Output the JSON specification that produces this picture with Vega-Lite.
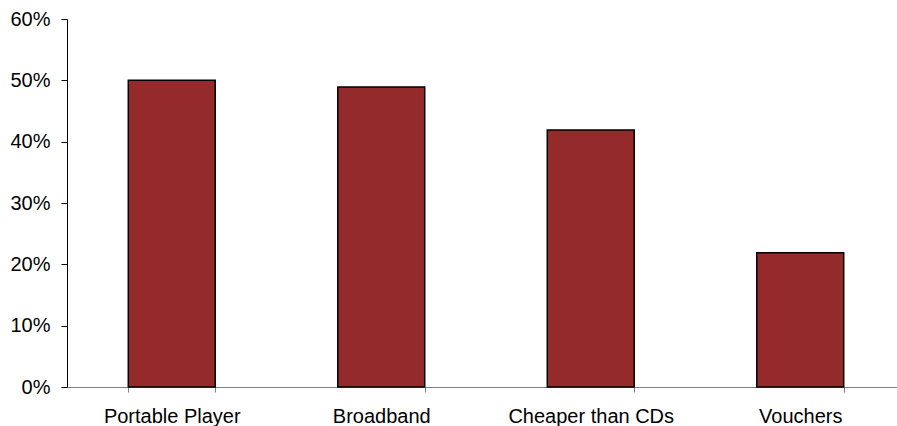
{
  "$schema": "https://vega.github.io/schema/vega-lite/v6.json",
  "width": 830,
  "height": 368,
  "autosize": "none",
  "padding": {"left": 67, "top": 19, "right": 0, "bottom": 39},
  "background": "white",
  "config": {"view": {"stroke": null}, "font": "Liberation Sans"},
  "data": {"values": [
    {"category": "Portable Player", "value": 0.50},
    {"category": "Broadband", "value": 0.489},
    {"category": "Cheaper than CDs", "value": 0.419},
    {"category": "Vouchers", "value": 0.219}
  ]},
  "mark": {"type": "bar", "color": "#952A2A", "stroke": "#000000", "strokeWidth": 1.5},
  "encoding": {
    "x": {
      "field": "category", "type": "nominal", "sort": null,
      "scale": {"paddingInner": 0.585, "paddingOuter": 0.2925, "range": [0, 838]},
      "axis": {"title": null, "labelAngle": 0, "labelFontSize": 20, "labelColor": "#000000",
               "labelPadding": 14, "tickSize": 5, "tickBand": "extent", "tickColor": "#808080",
               "domainColor": "#808080", "domainWidth": 1}
    },
    "y": {
      "field": "value", "type": "quantitative",
      "scale": {"domain": [0, 0.6]},
      "axis": {"title": null, "format": ".0%", "values": [0, 0.1, 0.2, 0.3, 0.4, 0.5, 0.6],
               "grid": false, "labelFontSize": 20, "labelColor": "#000000", "labelPadding": 11,
               "tickSize": 6, "tickColor": "#000000", "domainColor": "#000000", "domainWidth": 1}
    }
  }
}
